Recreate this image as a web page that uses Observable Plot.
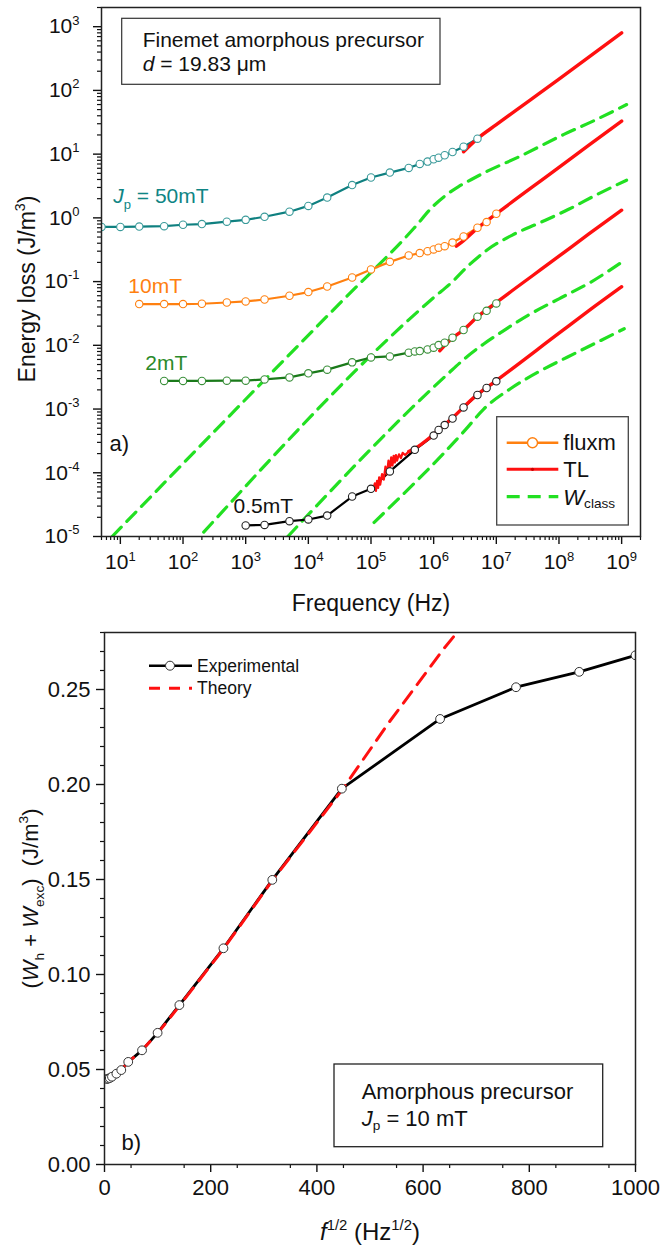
<!DOCTYPE html>
<html><head><meta charset="utf-8">
<script src="https://cdn.jsdelivr.net/npm/d3@7"></script>
<script src="https://cdn.jsdelivr.net/npm/@observablehq/plot@0.6"></script>
<style>
body{margin:0;background:#fff;}
#wrap{width:660px;}
#wrap svg{display:block;}
</style></head><body><div id="wrap"></div>
<script>
// ---------------- DATA (panel a) ----------------
// fluxmeter data, J_p = 50 mT
const fluxF50 = [5, 10, 20, 50, 100, 200, 500, 1e3, 2e3, 5e3, 1e4, 2e4, 5e4, 1e5, 2e5, 4e5, 6e5, 8e5, 1e6, 1.2e6, 1.5e6, 2e6, 3e6, 5e6];
const fluxW50 = [0.72, 0.72, 0.73, 0.74, 0.78, 0.80, 0.87, 0.93, 1.04, 1.25, 1.54, 2.08, 3.27, 4.3, 5.13, 6.08, 7.02, 7.63, 8.32, 8.81, 9.61, 10.8, 13.1, 17.5];
// J_p = 10 mT
const fluxF10 = [20, 50, 100, 200, 500, 1e3, 2e3, 5e3, 1e4, 2e4, 5e4, 1e5, 2e5, 4e5, 6e5, 8e5, 1e6, 1.2e6, 1.5e6, 2e6, 3e6, 5e6, 7e6, 1e7];
const fluxW10 = [0.0444, 0.0444, 0.0444, 0.0449, 0.047, 0.0488, 0.0524, 0.060, 0.0685, 0.0838, 0.116, 0.155, 0.204, 0.257, 0.28, 0.30, 0.32, 0.34, 0.36, 0.41, 0.51, 0.70, 0.86, 1.16];
// J_p = 2 mT
const fluxF2 = [50, 100, 200, 500, 1e3, 2e3, 5e3, 1e4, 2e4, 5e4, 1e5, 2e5, 4e5, 5e5, 6e5, 8e5, 1e6, 1.2e6, 1.5e6, 2e6, 3e6, 5e6, 7e6, 1e7];
const fluxW2 = [2.76e-3, 2.76e-3, 2.76e-3, 2.79e-3, 2.79e-3, 2.92e-3, 3.14e-3, 3.63e-3, 4.15e-3, 5.4e-3, 6.45e-3, 6.7e-3, 7.66e-3, 8.03e-3, 8.13e-3, 8.63e-3, 9.17e-3, 1.01e-2, 1.1e-2, 1.32e-2, 1.74e-2, 2.81e-2, 3.48e-2, 4.54e-2];
// J_p = 0.5 mT
const fluxF05 = [1e3, 2e3, 5e3, 1e4, 2e4, 5e4, 1e5, 2e5, 5e5, 1e6, 1.2e6, 1.5e6, 2e6, 3e6, 5e6, 7e6, 1e7];
const fluxW05 = [1.49e-5, 1.52e-5, 1.74e-5, 1.85e-5, 2.13e-5, 4.24e-5, 5.6e-5, 1.05e-4, 2.29e-4, 3.83e-4, 4.7e-4, 5.6e-4, 7.1e-4, 1.06e-3, 1.66e-3, 2.14e-3, 2.72e-3];

// transmission-line (TL) data
const tlF50 = [3e6, 5e6, 1e7, 1e8, 1e9];
const tlW50 = [10.9, 17.5, 29, 150, 800];
const tlF10 = [2.3e6, 3e6, 5e6, 1e7, 1e8, 3e8, 1e9];
const tlW10 = [0.36, 0.44, 0.69, 1.16, 6.2, 13.9, 33];
const tlF2 = [1.25e6, 2e6, 3e6, 5e6, 1e7, 1e8, 3e8, 1e9];
const tlW2 = [8.2e-3, 1.3e-2, 1.75e-2, 2.8e-2, 4.7e-2, 0.25, 0.56, 1.32];
// 0.5 mT: noisy low-frequency stretch, then the smooth high-frequency part
const tlF05 = [1.1e5, 1.15e5, 1.2e5, 1.25e5, 1.3e5, 1.35e5, 1.4e5, 1.5e5, 1.6e5, 1.7e5, 1.8e5, 1.9e5, 2.0e5, 2.1e5, 2.2e5, 2.3e5, 2.4e5, 2.5e5, 2.6e5, 2.8e5, 3.0e5, 3.2e5, 3.5e5, 4e5, 5e5, 1e6, 2e6, 5e6, 1e7, 1e8, 3e8, 1e9];
const tlW05 = [5.6e-5, 6.8e-5, 5.2e-5, 7.5e-5, 5.8e-5, 8.5e-5, 6.5e-5, 9.5e-5, 7.8e-5, 1.25e-4, 9.5e-5, 1.55e-4, 1.15e-4, 1.75e-4, 1.3e-4, 1.85e-4, 1.45e-4, 1.9e-4, 1.55e-4, 1.95e-4, 1.7e-4, 2.05e-4, 1.9e-4, 2.15e-4, 2.4e-4, 4.0e-4, 7.3e-4, 1.7e-3, 2.8e-3, 0.0155, 0.035, 0.083];
const tl05NoisyCount = 24;

// classical loss W_class
const wcF50 = [7.4, 3.2e4, 4.8e5, 1.0e6, 1.6e6, 2.5e6, 4.0e6, 7.2e6, 2.2e7, 1.2e8, 4.1e8, 1.2e9];
const wcW50 = [1.0e-5, 0.046, 0.68, 1.55, 2.3, 3.1, 4.0, 5.4, 8.9, 20.4, 35.5, 60];
const wcF10 = [214, 1e6, 2e6, 3.5e6, 7.2e6, 1.8e7, 5e7, 1.4e8, 4.1e8, 1.2e9];
const wcW10 = [1.17e-5, 0.056, 0.10, 0.174, 0.316, 0.537, 0.843, 1.35, 2.34, 3.9];
const wcF2 = [4.7e3, 1.6e6, 3.2e6, 6.3e6, 1.26e7, 3.2e7, 1e8, 3.2e8, 1.17e9];
const wcW2 = [1.0e-5, 3.4e-3, 6.3e-3, 0.0105, 0.0166, 0.0295, 0.0537, 0.0977, 0.224];
const wcF05 = [1.12e5, 3.2e6, 6.3e6, 1.7e7, 5.1e7, 1.35e8, 4.1e8, 1.1e9];
const wcW05 = [1.66e-5, 4.7e-4, 1.0e-3, 2.1e-3, 4.0e-3, 6.5e-3, 0.0112, 0.0182];

const topXTicks = [1e1, 1e2, 1e3, 1e4, 1e5, 1e6, 1e7, 1e8, 1e9];
const topYTicks = [1e-5, 1e-4, 1e-3, 1e-2, 1e-1, 1e0, 1e1, 1e2, 1e3];

const seriesLabels = [
  {text: "*J*_{p} = 50mT", f: 7.7, w: 2.2, color: "#0f8585"},
  {text: "10mT", f: 13.4, w: 0.0838, color: "#ff8010"},
  {text: "2mT", f: 25, w: 5.2e-3, color: "#2a8a2a"},
  {text: "0.5mT", f: 640, w: 2.95e-5, color: "#111"}
];

// ---------------- DATA (panel b) ----------------
const expX = [4.47, 7.07, 10, 14.1, 22.4, 31.6, 44.7, 70.7, 100, 141, 224, 316, 447, 632, 775, 894, 1000];
const expY = [0.0450, 0.0452, 0.0455, 0.0462, 0.0478, 0.0497, 0.054, 0.0601, 0.0693, 0.0839, 0.1138, 0.1498, 0.1978, 0.2345, 0.2512, 0.2593, 0.268];
const theoX = [0, 5, 10, 20, 30, 45, 70, 100, 141, 224, 316, 447, 535, 639, 664];
const theoY = [0.0447, 0.0450, 0.0455, 0.0475, 0.0495, 0.054, 0.060, 0.069, 0.0835, 0.1135, 0.1495, 0.197, 0.2324, 0.2715, 0.28];
const botXTicks = [0, 200, 400, 600, 800, 1000];
const botYTicks = [0, 0.05, 0.10, 0.15, 0.20, 0.25];

// ---------------- helpers ----------------
const FONT = "'Liberation Sans', Arial, Helvetica, sans-serif";
const TEAL = "#0f8080", ORANGE = "#ff8010", DGREEN = "#1a7a1a", RED = "#ff1010", LGREEN = "#22e022";
const rec = (F, W) => F.map((f, i) => ({f, w: W[i]}));
const recXY = (X, Y) => X.map((x, i) => ({x, y: Y[i]}));

const xMinorTop = [];
for (let e = 0; e <= 9; e++) for (let m = 2; m <= 9; m++) { const v = m * 10 ** e; if (v >= 5 && v <= 2e9) xMinorTop.push(v); }
const yMinorTop = [];
for (let e = -5; e <= 3; e++) for (let m = 2; m <= 9; m++) { const v = m * 10 ** e; if (v <= 2e3) yMinorTop.push(v); }
const botXMinor = d3.range(50, 1000, 100);
const botYMinor = d3.range(1, 29).filter(k => k % 5 !== 0).map(k => k / 100);

const sup = d => `10^{${Math.round(Math.log10(d))}}`;

// ---------------- panel a ----------------
const fluxStyle = (c) => ({x: "f", y: "w", stroke: c, strokeWidth: 2.2, clip: true});
const dotStyle = (c) => ({x: "f", y: "w", r: 3.7, fill: "white", stroke: c, strokeWidth: 1.1, clip: true});
const wcStyle = {x: "f", y: "w", stroke: LGREEN, strokeWidth: 3.2, strokeDasharray: "13,8", curve: "monotone-x", clip: true};
const tlStyle = {x: "f", y: "w", stroke: RED, strokeWidth: 3.4, curve: "monotone-x", clip: true};
const tl05 = rec(tlF05, tlW05);

const topChart = Plot.plot({
  width: 660, height: 615,
  marginLeft: 101, marginRight: 20, marginTop: 7, marginBottom: 79,
  style: {fontFamily: FONT, fontSize: "21px", color: "#111", background: "white", overflow: "visible"},
  x: {type: "log", domain: [5, 2e9], label: null},
  y: {type: "log", domain: [1e-5, 2e3], label: null},
  marks: [
    Plot.axisX(xMinorTop, {tickSize: 4, tickFormat: () => "", strokeWidth: 1.2, label: null}),
    Plot.axisX(topXTicks, {tickSize: 8, tickPadding: 10, strokeWidth: 1.4, tickFormat: sup, fontSize: 21, label: null}),
    Plot.axisY(yMinorTop, {tickSize: 4, tickFormat: () => "", strokeWidth: 1.2, label: null}),
    Plot.axisY(topYTicks, {tickSize: 8, tickPadding: 14, strokeWidth: 1.4, tickFormat: sup, fontSize: 21, label: null}),
    Plot.line(rec(wcF50, wcW50), wcStyle),
    Plot.line(rec(wcF10, wcW10), wcStyle),
    Plot.line(rec(wcF2, wcW2), wcStyle),
    Plot.line(rec(wcF05, wcW05), wcStyle),
    Plot.line(rec(fluxF50, fluxW50), fluxStyle(TEAL)),
    Plot.line(rec(fluxF10, fluxW10), fluxStyle(ORANGE)),
    Plot.line(rec(fluxF2, fluxW2), fluxStyle(DGREEN)),
    Plot.line(rec(fluxF05, fluxW05), fluxStyle("#000")),
    Plot.line(rec(tlF50, tlW50), tlStyle),
    Plot.line(rec(tlF10, tlW10), tlStyle),
    Plot.line(rec(tlF2, tlW2), tlStyle),
    Plot.line(tl05.slice(0, tl05NoisyCount), {...tlStyle, curve: "linear", strokeWidth: 2.2}),
    Plot.line(tl05.slice(tl05NoisyCount - 1), tlStyle),
    Plot.dot(rec(fluxF50, fluxW50), dotStyle("#3a9a9a")),
    Plot.dot(rec(fluxF10, fluxW10), dotStyle(ORANGE)),
    Plot.dot(rec(fluxF2, fluxW2), dotStyle("#3a8f3a")),
    Plot.dot(rec(fluxF05, fluxW05), dotStyle("#222")),
    ...seriesLabels.map(s => Plot.text([s], {x: "f", y: "w", text: "text", fill: s.color, textAnchor: "start", fontSize: 21})),
    Plot.text(["a)"], {frameAnchor: "bottom-left", dx: 8, dy: -93, textAnchor: "start", lineAnchor: "middle", fontSize: 22}),
    Plot.text(["Frequency (Hz)"], {frameAnchor: "bottom", dy: 67, textAnchor: "middle", lineAnchor: "middle", fontSize: 23}),
    Plot.text(["Energy loss (J/m^{3})"], {frameAnchor: "left", dx: -74, dy: 17, rotate: -90, textAnchor: "middle", lineAnchor: "middle", fontSize: 23}),
    Plot.frame({stroke: "#222", strokeWidth: 1.5})
  ]
});

// ---------------- panel b ----------------
const botChart = Plot.plot({
  width: 660, height: 636,
  marginLeft: 104, marginRight: 25, marginTop: 17, marginBottom: 87,
  style: {fontFamily: FONT, fontSize: "22px", color: "#111", background: "white", overflow: "visible"},
  x: {domain: [0, 1000], label: null},
  y: {domain: [0, 0.28], label: null},
  marks: [
    Plot.axisX(botXMinor, {tickSize: 4, tickFormat: () => "", strokeWidth: 1.2, label: null}),
    Plot.axisX(botXTicks, {tickSize: 8, tickPadding: 7, strokeWidth: 1.4, tickFormat: d => String(d), fontSize: 22, label: null}),
    Plot.axisY(botYMinor, {tickSize: 4, tickFormat: () => "", strokeWidth: 1.2, label: null}),
    Plot.axisY(botYTicks, {tickSize: 8, tickPadding: 6, strokeWidth: 1.4, tickFormat: d3.format(".2f"), fontSize: 22, label: null}),
    Plot.line(recXY(expX, expY), {x: "x", y: "y", stroke: "#000", strokeWidth: 2.8, clip: true}),
    Plot.line(recXY(theoX, theoY), {x: "x", y: "y", stroke: RED, strokeWidth: 3, strokeDasharray: "14,9", clip: true}),
    Plot.dot(recXY(expX, expY), {x: "x", y: "y", r: 4.4, fill: "white", stroke: "#333", strokeWidth: 1, clip: true}),
    Plot.text(["b)"], {frameAnchor: "bottom-left", dx: 17, dy: -22, textAnchor: "start", lineAnchor: "middle", fontSize: 22}),
    Plot.text(["*f*^{1/2} (Hz^{1/2})"], {frameAnchor: "bottom", dy: 68, textAnchor: "middle", lineAnchor: "middle", fontSize: 24}),
    Plot.text(["(*W*_{h} + *W*_{exc})  (J/m^{3})"], {frameAnchor: "left", dx: -74, rotate: -90, textAnchor: "middle", lineAnchor: "middle", fontSize: 22}),
    Plot.frame({stroke: "#222", strokeWidth: 1.5})
  ]
});

const wrap = document.getElementById("wrap");
wrap.appendChild(topChart);
wrap.appendChild(botChart);

// ---------------- legends and boxes (layout) ----------------
function addText(g, x, y, s, size, color = "#111") {
  return g.append("text").attr("x", x).attr("y", y).attr("dominant-baseline", "central")
    .attr("text-anchor", "start").attr("font-size", size).attr("fill", color).text(s);
}
{
  const g = d3.select(topChart).append("g").attr("font-family", FONT).attr("text-anchor", "start");
  // info box
  g.append("rect").attr("x", 121.7).attr("y", 18.3).attr("width", 318.3).attr("height", 66)
    .attr("fill", "white").attr("stroke", "#333").attr("stroke-width", 1.2);
  addText(g, 142.7, 39.3, "Finemet amorphous precursor", 21);
  addText(g, 142.7, 63.3, "*d* = 19.83 μm", 21);
  // legend
  g.append("rect").attr("x", 496.7).attr("y", 416.7).attr("width", 131.6).attr("height", 108.3)
    .attr("fill", "white").attr("stroke", "#444").attr("stroke-width", 1.3);
  const x0 = 506.7, x1 = 558.3, tx = 563.3;
  g.append("line").attr("x1", x0).attr("x2", x1).attr("y1", 442.7).attr("y2", 442.7).attr("stroke", ORANGE).attr("stroke-width", 2.4);
  g.append("circle").attr("cx", (x0 + x1) / 2).attr("cy", 442.7).attr("r", 5).attr("fill", "white").attr("stroke", ORANGE).attr("stroke-width", 1.4);
  addText(g, tx, 442.7, "fluxm", 22);
  g.append("line").attr("x1", x0).attr("x2", x1).attr("y1", 469.3).attr("y2", 469.3).attr("stroke", RED).attr("stroke-width", 3);
  g.append("circle").attr("cx", (x0 + x1) / 2).attr("cy", 469.3).attr("r", 1.6).attr("fill", "#c00");
  addText(g, tx, 469.3, "TL", 22);
  g.append("line").attr("x1", x0).attr("x2", x1).attr("y1", 496.7).attr("y2", 496.7).attr("stroke", LGREEN).attr("stroke-width", 3.2).attr("stroke-dasharray", "13,8");
  addText(g, tx, 496.7, "*W*_{class}", 22);
}
{
  const g = d3.select(botChart).append("g").attr("font-family", FONT).attr("text-anchor", "start");
  g.append("line").attr("x1", 149).attr("x2", 192).attr("y1", 50.7).attr("y2", 50.7).attr("stroke", "#000").attr("stroke-width", 2.6);
  g.append("circle").attr("cx", 170).attr("cy", 50.7).attr("r", 4.5).attr("fill", "white").attr("stroke", "#333");
  addText(g, 197, 50.7, "Experimental", 17.5);
  g.append("line").attr("x1", 149).attr("x2", 192).attr("y1", 73.3).attr("y2", 73.3).attr("stroke", RED).attr("stroke-width", 3).attr("stroke-dasharray", "11,9");
  addText(g, 197, 73.3, "Theory", 17.5);
  g.append("rect").attr("x", 334).attr("y", 449).attr("width", 268.7).attr("height", 82.7)
    .attr("fill", "white").attr("stroke", "#222").attr("stroke-width", 1.3);
  addText(g, 361.7, 476, "Amorphous precursor", 22);
  addText(g, 361.7, 503, "*J*_{p} = 10 mT", 22);
}

// ---------------- rich text (italic / sub / sup) ----------------
function richify(root) {
  d3.select(root).selectAll("text").each(function () {
    const el = this;
    const s = el.textContent;
    if (!/(_\{|\^\{|\*)/.test(s)) return;
    const fs = parseFloat(getComputedStyle(el).fontSize) || 16;
    const parts = s.split(/(_\{[^}]*\}|\^\{[^}]*\}|\*[^*]*\*)/).filter(p => p !== "");
    el.textContent = "";
    el.style.whiteSpace = "pre";
    let shift = 0;
    for (const p of parts) {
      const t = document.createElementNS("http://www.w3.org/2000/svg", "tspan");
      let target = 0, txt = p, size = null, italic = false;
      if (p.startsWith("_{")) { txt = p.slice(2, -1); target = 0.3 * fs; size = 0.62 * fs; }
      else if (p.startsWith("^{")) { txt = p.slice(2, -1); target = -0.42 * fs; size = 0.62 * fs; }
      else if (p.startsWith("*")) { txt = p.slice(1, -1); italic = true; }
      const dy = target - shift;
      if (dy) t.setAttribute("dy", dy.toFixed(2));
      shift = target;
      if (size) t.setAttribute("font-size", size.toFixed(2));
      if (italic) t.setAttribute("font-style", "italic");
      t.textContent = txt;
      el.appendChild(t);
    }
  });
}
richify(topChart);
richify(botChart);
</script></body></html>
